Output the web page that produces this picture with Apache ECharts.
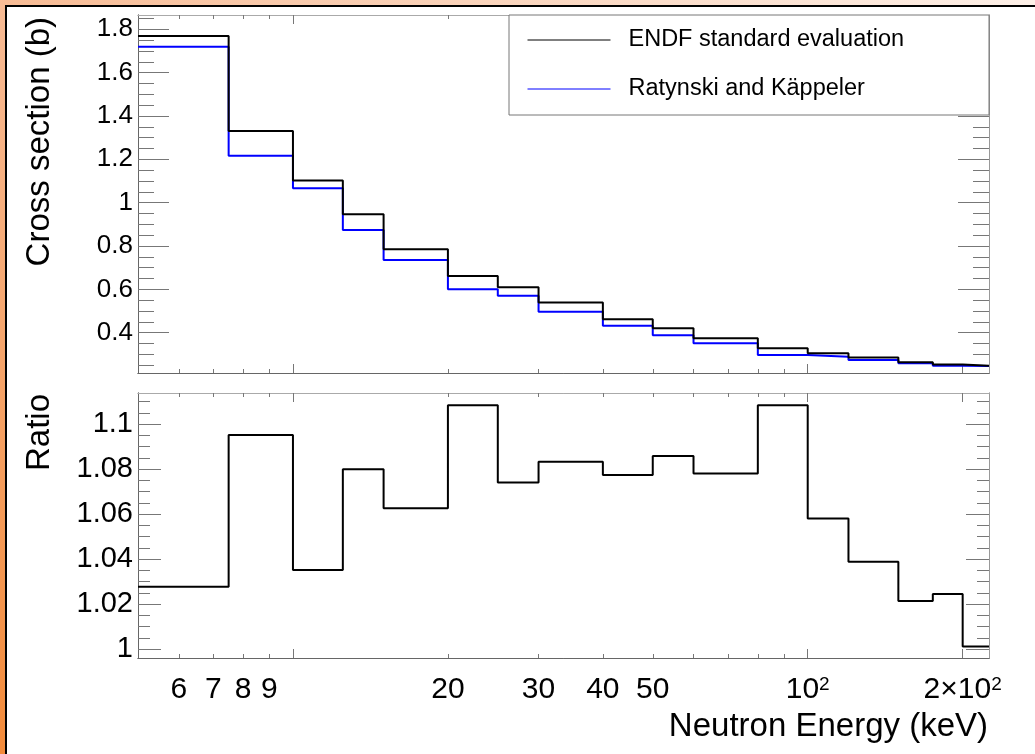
<!DOCTYPE html>
<html>
<head>
<meta charset="utf-8">
<script src="https://cdn.jsdelivr.net/npm/echarts@6/dist/echarts.min.js"></script>
<style>
html, body { margin: 0; padding: 0; }
body {
    width: 1035px; height: 754px; overflow: hidden; position: relative;
    background: linear-gradient(to top right, #f28a3a 0%, #f7b68c 45%, #fdf0e8 100%);
}
#frame { position: absolute; left: 5px; top: 5px; width: 1040px; height: 760px; background: #fff; border: 2px solid #000; }
#main { position: absolute; left: 0; top: 0; width: 1035px; height: 754px; }
</style>
</head>
<body>
<div id="frame"></div>
<div id="main"></div>
<script>
// bin edges in keV
let edges = [5, 7.5, 10, 12.5, 15, 20, 25, 30, 40, 50, 60, 80, 100, 120, 150, 175, 200, 225];
// cross sections (b), one value per bin
let endf = [1.769, 1.331, 1.102, 0.947, 0.785, 0.662, 0.610, 0.539, 0.462, 0.420, 0.374, 0.328, 0.305, 0.285, 0.264, 0.253, 0.247];
let ratynski = [1.720, 1.216, 1.066, 0.874, 0.736, 0.600, 0.571, 0.497, 0.432, 0.388, 0.351, 0.297, 0.289, 0.274, 0.259, 0.247, 0.246];
let ratio = [1.0278, 1.0951, 1.0352, 1.0799, 1.0626, 1.1084, 1.0740, 1.0833, 1.0774, 1.0858, 1.0781, 1.1084, 1.0581, 1.0389, 1.0214, 1.0245, 1.0012];

// tick values
let xLabels = [6, 7, 8, 9, 20, 30, 40, 50, 100, 200];
let xMinor = [6, 7, 8, 9, 20, 30, 40, 50, 60, 70, 80, 90];
let xMajor = [10, 100, 200];
let csMajor = [0.4, 0.6, 0.8, 1, 1.2, 1.4, 1.6, 1.8];
let csMinor = [0.25, 0.3, 0.35, 0.45, 0.5, 0.55, 0.65, 0.7, 0.75, 0.85, 0.9, 0.95, 1.05, 1.1, 1.15,
    1.25, 1.3, 1.35, 1.45, 1.5, 1.55, 1.65, 1.7, 1.75, 1.85];
let ratioMajor = [1, 1.02, 1.04, 1.06, 1.08, 1.1];
let ratioMinor = [1.005, 1.01, 1.015, 1.025, 1.03, 1.035, 1.045, 1.05, 1.055, 1.065, 1.07, 1.075,
    1.085, 1.09, 1.095, 1.105, 1.11];

const FONT = '"Liberation Sans", Arial, Helvetica, sans-serif';

// histogram -> step points (last value repeated at the upper edge)
function steps(vals) {
    return edges.map(function (e, i) {
        return [e, vals[Math.min(i, vals.length - 1)]];
    });
}

function xAx(grid, pos, ticks, len, lineColor, labels) {
    return {
        type: 'log', gridIndex: grid, position: pos, min: 5, max: 225,
        axisLine: { show: true, onZero: false, lineStyle: { color: lineColor, width: 1 } },
        axisTick: { show: true, inside: true, length: len, customValues: ticks, lineStyle: { color: '#777' } },
        axisLabel: labels ? {
            show: true, customValues: labels, margin: 17, color: '#000',
            fontSize: 30, fontFamily: FONT, lineHeight: 30,
            formatter: function (v) {
                v = Math.round(v);
                if (v == 100) return '10{sup|2}';
                if (v == 200) return '2×10{sup|2}';
                return '' + v;
            },
            rich: { sup: { fontSize: 19, fontFamily: FONT, color: '#000', verticalAlign: 'top', lineHeight: 30 } }
        } : { show: false },
        splitLine: { show: false }
    };
}

function yAx(grid, pos, min, max, ticks, len, lineColor, labels, fs) {
    return {
        type: 'value', gridIndex: grid, position: pos, min: min, max: max,
        axisLine: { show: true, onZero: false, lineStyle: { color: lineColor, width: 1 } },
        axisTick: { show: true, inside: true, length: len, customValues: ticks, lineStyle: { color: '#777' } },
        axisLabel: labels ? {
            show: true, customValues: labels, margin: 5, color: '#000', fontSize: fs, fontFamily: FONT,
            padding: [7, 0, 0, 0]
        } : { show: false },
        splitLine: { show: false }
    };
}

let csMin = 0.214, csMax = 1.866;
let rMin = 0.9961, rMax = 1.1138;

var myChart = echarts.init(document.getElementById('main'), null, { renderer: 'canvas' });

var option = {
    animation: false,
    grid: [
        { left: 138, top: 15, width: 851, height: 358, containLabel: false, outerBoundsMode: 'none' },
        { left: 138, top: 393, width: 851, height: 265, containLabel: false, outerBoundsMode: 'none' }
    ],
    xAxis: [
        xAx(0, 'bottom', xMinor, 4, '#666', null),
        xAx(0, 'bottom', xMajor, 9, '#666', null),
        xAx(0, 'top', xMinor, 4, '#aaa', null),
        xAx(0, 'top', xMajor, 9, '#aaa', null),
        xAx(1, 'bottom', xMinor, 4, '#666', xLabels),
        xAx(1, 'bottom', xMajor, 9, '#666', null),
        xAx(1, 'top', xMinor, 4, '#aaa', null),
        xAx(1, 'top', xMajor, 9, '#aaa', null)
    ],
    yAxis: [
        yAx(0, 'left', csMin, csMax, csMajor, 31, '#666', csMajor, 26),
        yAx(0, 'left', csMin, csMax, csMinor, 16, '#666', null),
        yAx(0, 'right', csMin, csMax, csMajor, 31, '#999', null),
        yAx(0, 'right', csMin, csMax, csMinor, 16, '#999', null),
        yAx(1, 'left', rMin, rMax, ratioMajor, 23, '#666', ratioMajor, 29),
        yAx(1, 'left', rMin, rMax, ratioMinor, 12, '#666', null),
        yAx(1, 'right', rMin, rMax, ratioMajor, 23, '#999', null),
        yAx(1, 'right', rMin, rMax, ratioMinor, 12, '#999', null)
    ],
    legend: {
        data: ['ENDF standard evaluation', 'Ratynski and Käppeler'],
        orient: 'vertical', left: 527, top: 28, padding: 0,
        itemWidth: 83, itemHeight: 24, itemGap: 25, z: 20,
        selectedMode: false,
        lineStyle: { width: 1 },
        itemStyle: { opacity: 0 },
        textStyle: { fontSize: 23.5, fontFamily: FONT, color: '#000', lineHeight: 24, padding: [0, 0, 0, 13] }
    },
    graphic: [
        {
            type: 'rect', z: 10,
            shape: { x: 509, y: 15, width: 480, height: 100 },
            style: { fill: '#fff', stroke: '#777', lineWidth: 1 }
        },
        {
            type: 'text', x: 40, y: 17, rotation: Math.PI / 2,
            style: { text: 'Cross section (b)', fontSize: 33, fontFamily: FONT, fill: '#000', align: 'right', verticalAlign: 'middle' }
        },
        {
            type: 'text', x: 40, y: 394, rotation: Math.PI / 2,
            style: { text: 'Ratio', fontSize: 33, fontFamily: FONT, fill: '#000', align: 'right', verticalAlign: 'middle' }
        },
        {
            type: 'text', x: 988, y: 727,
            style: { text: 'Neutron Energy (keV)', fontSize: 33, fontFamily: FONT, fill: '#000', align: 'right', verticalAlign: 'middle' }
        }
    ],
    series: [
        {
            name: 'Ratynski and Käppeler', type: 'line', step: 'end',
            xAxisIndex: 0, yAxisIndex: 0, data: steps(ratynski),
            symbol: 'none', z: 3,
            lineStyle: { color: '#0000ff', width: 2 }, itemStyle: { color: '#0000ff' }
        },
        {
            name: 'ENDF standard evaluation', type: 'line', step: 'end',
            xAxisIndex: 0, yAxisIndex: 0, data: steps(endf),
            symbol: 'none', z: 4,
            lineStyle: { color: '#000', width: 2 }, itemStyle: { color: '#000' }
        },
        {
            name: 'Ratio', type: 'line', step: 'end',
            xAxisIndex: 4, yAxisIndex: 4, data: steps(ratio),
            symbol: 'none', z: 4,
            lineStyle: { color: '#000', width: 2 }, itemStyle: { color: '#000' }
        }
    ]
};

myChart.setOption(option);
</script>
</body>
</html>
